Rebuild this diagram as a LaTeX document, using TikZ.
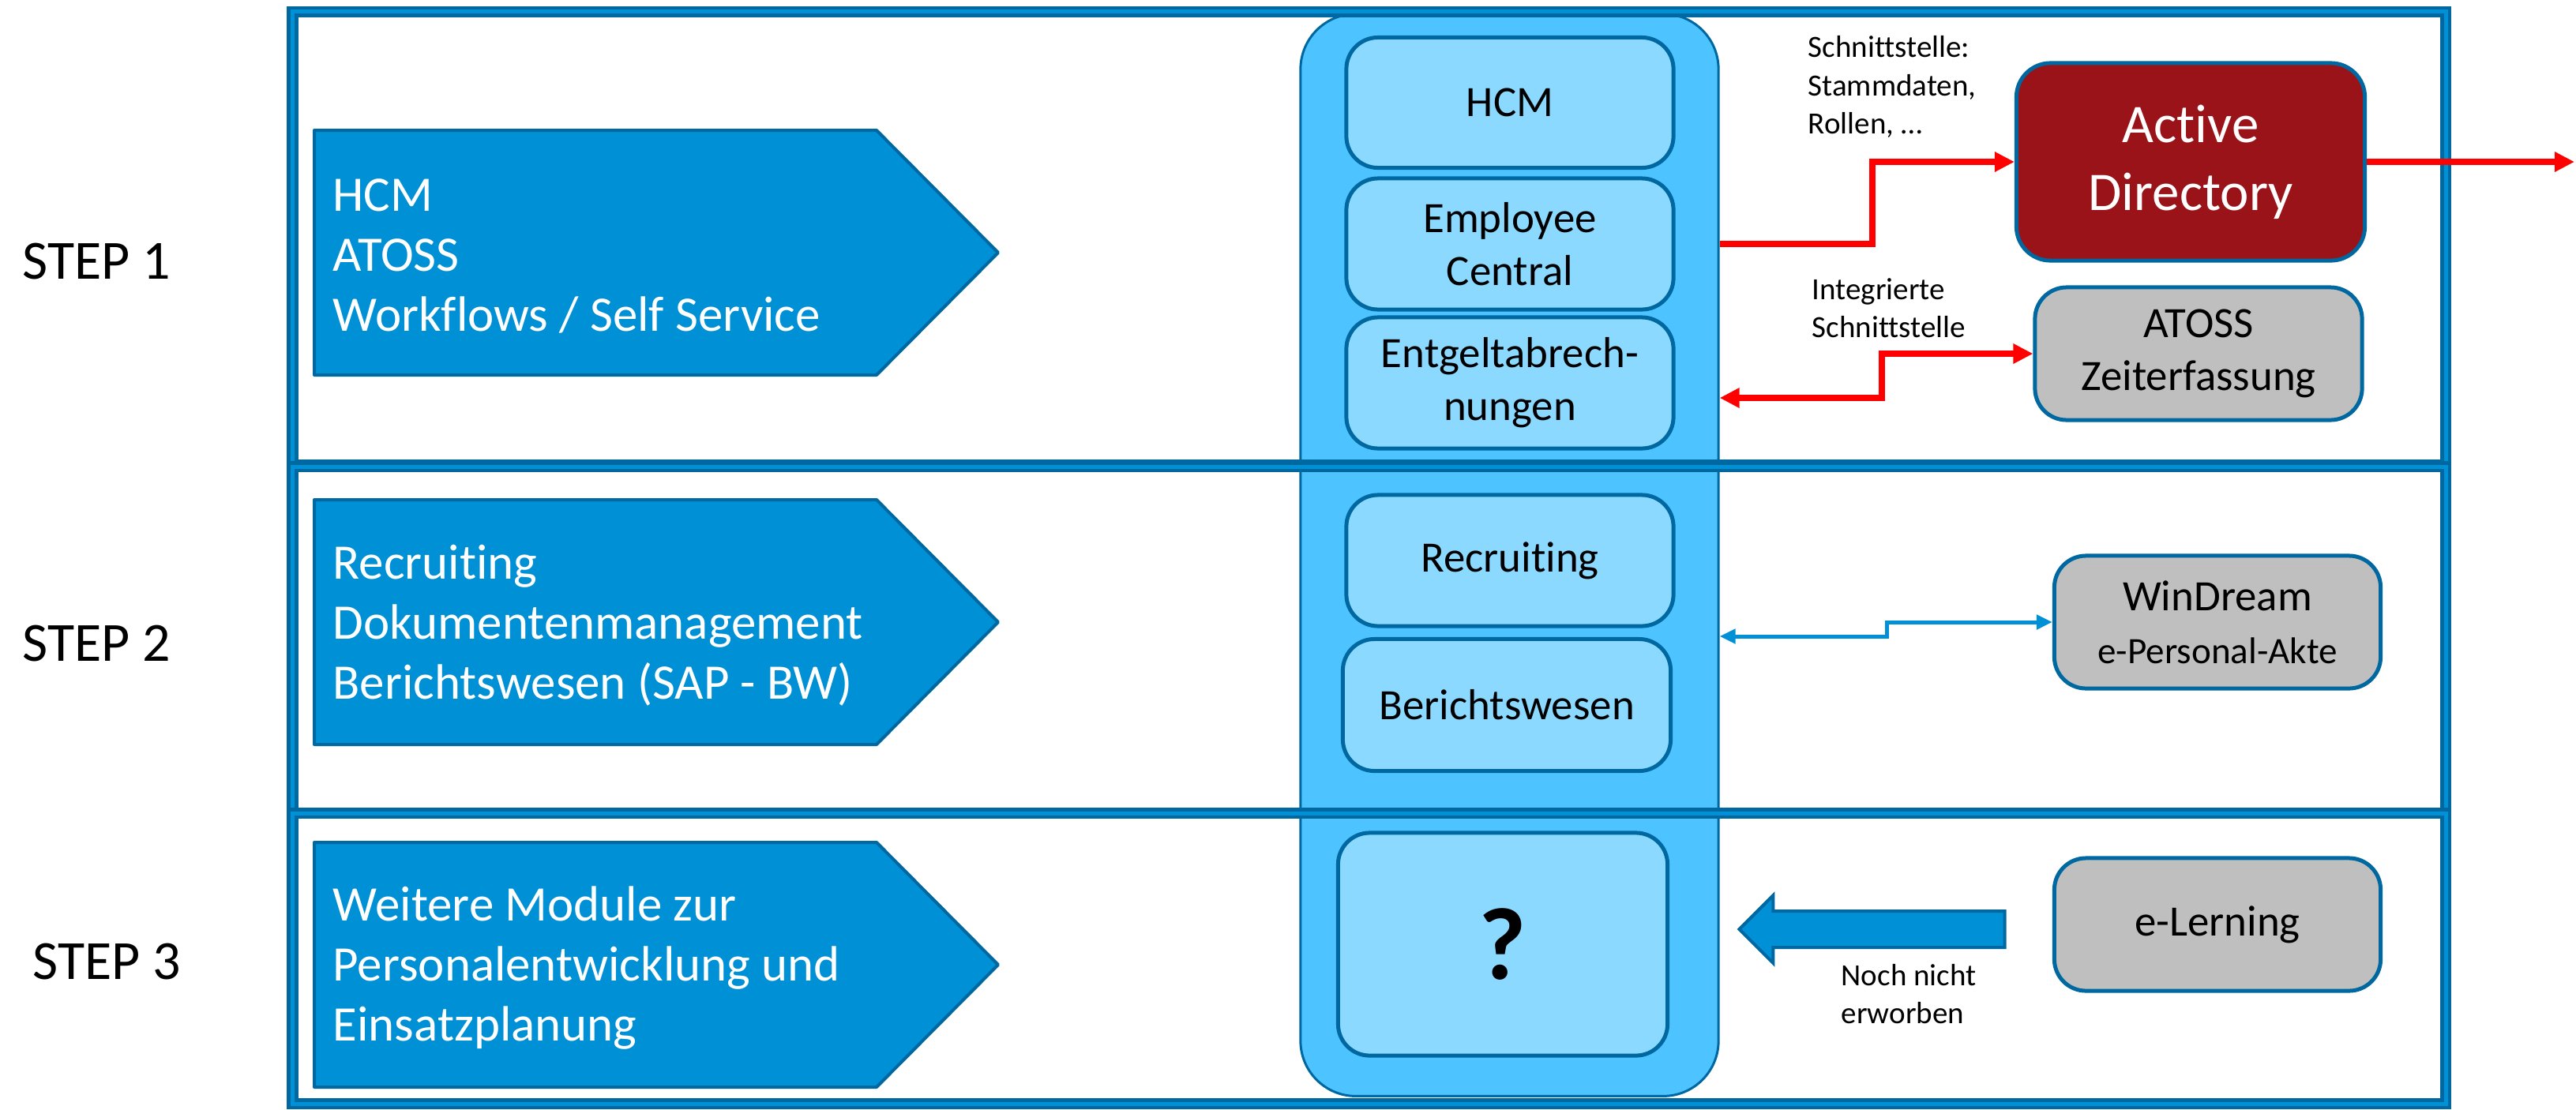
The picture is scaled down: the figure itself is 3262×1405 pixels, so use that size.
\documentclass[tikz,border=0pt]{standalone}
\usepackage{fontspec}
\setmainfont[Ligatures={NoCommon,NoContextual}]{Carlito}
\usetikzlibrary{
  arrows.meta,
  shapes.arrows
}
\definecolor{frameblue}{RGB}{0,104,160}
\definecolor{stepblue}{RGB}{0,144,213}
\definecolor{colblue}{RGB}{77,196,255}
\definecolor{modblue}{RGB}{140,217,255}
\definecolor{adred}{RGB}{154,19,24}
\definecolor{extgrey}{RGB}{191,191,191}
\definecolor{linkred}{RGB}{255,0,0}

\begin{document}
\begin{tikzpicture}[
  x=0.01cm, y=-0.01cm,
  every node/.style = {inner sep=0pt, align=center},
  band/.style = {draw=frameblue, double=stepblue,
    line width=0.045cm, double distance=0.05cm},
  stepshape/.style = {draw=frameblue, fill=stepblue,
    line width=0.04cm, line join=round},
  steptext/.style = {anchor=west, align=left, text=white,
    font=\fontsize{17.9}{21.6}\selectfont},
  steplabel/.style = {anchor=west, font=\fontsize{19.9}{24}\selectfont},
  column/.style = {draw=frameblue, fill=colblue, line width=0.03cm,
    rounded corners=0.7cm, minimum width=5.29cm, minimum height=13.7cm},
  modbox/.style = {draw=frameblue, fill=modblue, line width=0.05cm,
    rounded corners=0.4cm, minimum width=4.14cm, minimum height=1.65cm,
    font=\fontsize{15.6}{19.1}\selectfont},
  extbox/.style = {draw=frameblue, fill=extgrey, line width=0.05cm,
    rounded corners=0.4cm, minimum width=4.14cm, minimum height=1.68cm,
    font=\fontsize{15.6}{19.1}\selectfont},
  note/.style = {anchor=west, align=left, font=\fontsize{11.1}{13.7}\selectfont},
  redlink/.style = {draw=linkred, line width=0.08cm,
    >={Triangle[length=0.25cm,width=0.24cm]}},
  bluelink/.style = {draw=stepblue, line width=0.05cm,
    >={Triangle[length=0.2cm,width=0.18cm]}}]

  \fill[white] (0,0) rectangle (3262,1405);
  \useasboundingbox (0,0) rectangle (3262,1405);

  % the SAP column behind the modules
  \node[column] (col) at (1911.5,703) {};

  % the three step bands
  \draw[band] (370.5,14.5) rectangle (3097,589);
  \draw[band] (370.5,591) rectangle (3097,1030);
  \draw[band] (370.5,1030) rectangle (3097,1398);

  % step arrows
  \foreach \ym in {320,788,1222}
    \draw[stepshape] (398,\ym-155) -- (1110,\ym-155) -- (1264,\ym)
      -- (1110,\ym+155) -- (398,\ym+155) -- cycle;
  \node[steptext] (s1text) at (421,324) {HCM\\ATOSS\\Workflows / Self Service};
  \node[steptext] (s2text) at (421,792) {Recruiting\\Dokumentenmanagement\\Berichtswesen (SAP - BW)};
  \node[steptext] (s3text) at (421,1226) {Weitere Module zur\\Personalentwicklung und\\Einsatzplanung};

  \node[steplabel] (step1) at (28,331) {STEP 1};
  \node[steplabel] (step2) at (28,815) {STEP 2};
  \node[steplabel] (step3) at (41,1218) {STEP 3};

  % modules
  \node[modbox] (hcm) at (1912,130) {HCM};
  \node[modbox, minimum height=1.66cm] (ec) at (1912,309) {Employee\\Central};
  \node[modbox, minimum height=1.66cm] (pay) at (1912,485) {Entgeltabrech-\\nungen};
  \node[modbox, minimum height=1.66cm] (rec) at (1912,710) {Recruiting};
  \node[modbox, minimum height=1.67cm, minimum width=4.15cm] (bw) at (1908,893) {Berichtswesen};
  \node[modbox, minimum height=2.82cm, minimum width=4.17cm,
    font=\fontsize{37}{40}\selectfont\bfseries] (tbd) at (1903,1196) {?};

  % external systems
  \node[extbox, fill=adred, text=white, minimum width=4.41cm, minimum height=2.5cm,
    rounded corners=0.43cm, font=\fontsize{19.6}{24.5}\selectfont] (ad) at (2774,205) {Active\\Directory};
  \node[extbox] (atoss) at (2784,448) {ATOSS\\Zeiterfassung};
  \node[extbox, minimum width=4.13cm] (wd) at (2808,788)
    {WinDream\\{\fontsize{13.4}{17.1}\selectfont e-Personal-Akte}};
  \node[extbox, minimum width=4.13cm] (el) at (2808,1171) {e-Lerning};

  \node[note] (ifad) at (2289,110) {Schnittstelle:\\Stammdaten,\\Rollen, …};
  \node[note] (ifatoss) at (2294,390) {Integrierte\\Schnittstelle};
  \node[note] (notyet) at (2331,1259) {Noch nicht\\erworben};

  % interfaces
  \coordinate (adout) at (3260,205);
  \draw[redlink,->] (col.east |- ec) -- ++(193,0) |- (ad.west);
  \draw[redlink,->] (ad.east) -- (adout);
  \draw[redlink,<->] (col.east |- 0,504) -- ++(205,0) |- (atoss.west);
  \draw[bluelink,<->] (col.east |- 0,806) -- ++(212,0) |- (wd.west);
  \node[single arrow, shape border rotate=180, draw=frameblue, fill=stepblue,
    line width=0.04cm, minimum height=3.36cm, inner ysep=0.21cm, inner xsep=0pt,
    single arrow head extend=0.2cm] (buy) at (2382,1177) {};
\end{tikzpicture}
\end{document}
